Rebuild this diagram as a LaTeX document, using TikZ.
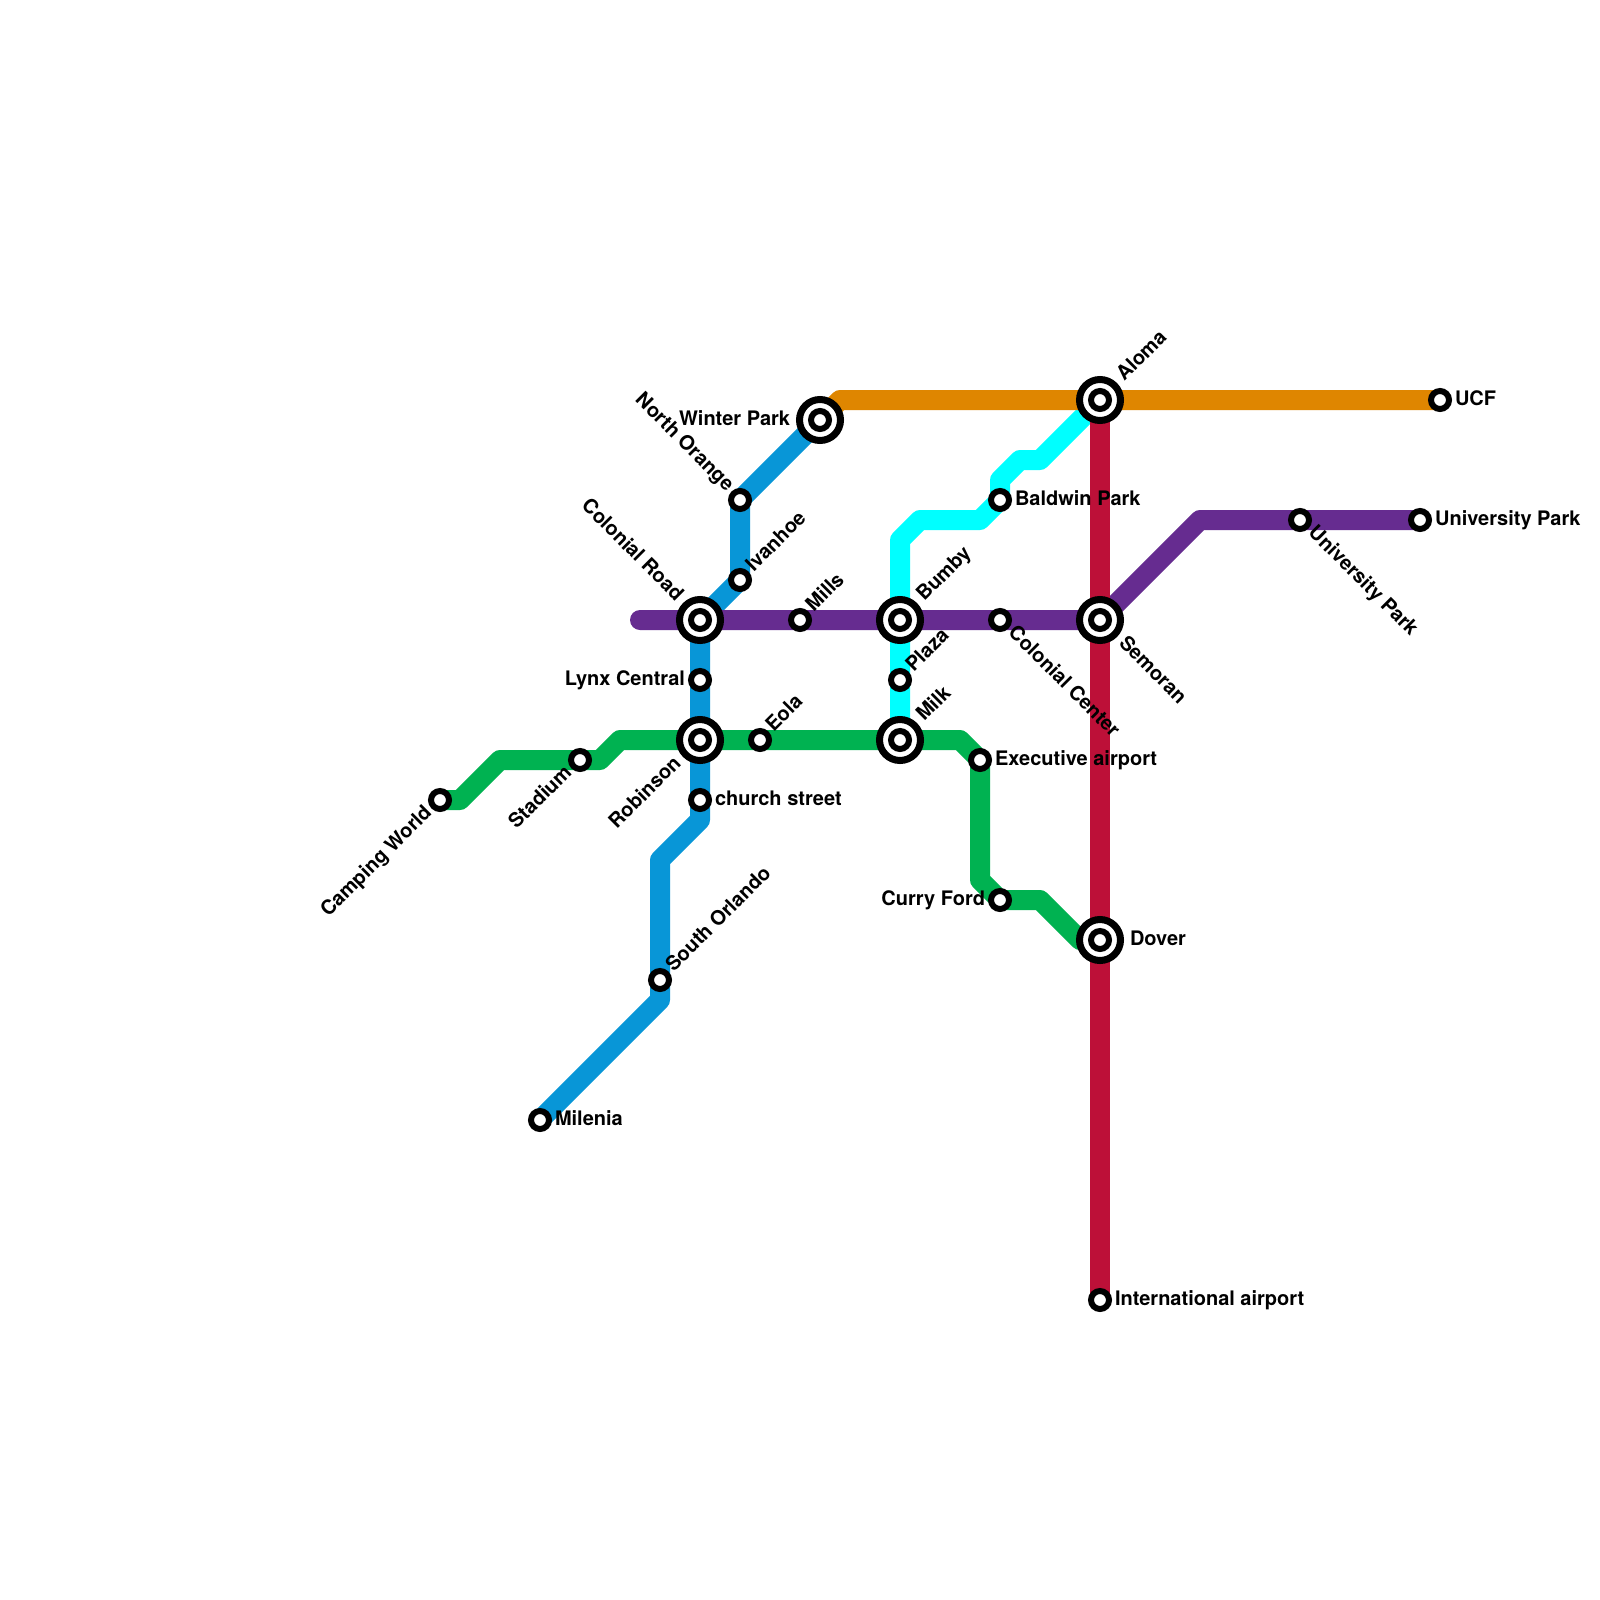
\documentclass[tikz,border=0pt]{standalone}
\usepackage{fontspec}
\setmainfont{TeX Gyre Heros}
\pgfdeclarelayer{lines}
\pgfsetlayers{lines,main}
\definecolor{lblue}{HTML}{0896D7}
\definecolor{lpurple}{HTML}{662C90}
\definecolor{lgreen}{HTML}{00B251}
\definecolor{lorange}{HTML}{DF8600}
\definecolor{lcrimson}{HTML}{BD1038}
\definecolor{lcyan}{HTML}{00FFFF}
\tikzset{
  rail/.style={line width=20pt,line join=round,line cap=round},
  stsmall/.style={circle,draw=black,fill=white,line width=6pt,minimum size=18pt,inner sep=0pt,outer sep=0pt},
  stbig/.style={circle,draw=black,fill=white,line width=7pt,minimum size=41pt,inner sep=0pt,outer sep=0pt},
  lab/.style={inner sep=0pt,outer sep=0pt,text=black,font=\fontsize{20}{24}\selectfont\bfseries},
  labE/.style={lab,xshift=#1,yshift=-5.3pt,anchor=base west},
  labW/.style={lab,xshift=-#1,yshift=-5.3pt,anchor=base east},
  labNE/.style={lab,rotate=45,xshift=#1,yshift=-4.5pt,anchor=base west},
  labSW/.style={lab,rotate=45,xshift=-#1,yshift=-4.5pt,anchor=base east},
  labSE/.style={lab,rotate=-45,xshift=#1,yshift=-4.5pt,anchor=base west},
  labNW/.style={lab,rotate=-45,xshift=-#1,yshift=-4.5pt,anchor=base east},
}
\newcommand{\bigst}[2]{\node[stbig] (#1) at (#2) {}; \node[stsmall] (#1in) at (#2) {};}
\begin{document}
\begin{tikzpicture}[x=1pt,y=-1pt]
\useasboundingbox (0,0) rectangle (1600,1600);
% stations
\bigst{winter}{820,420}
\bigst{aloma}{1100,400}
\bigst{colonial}{700,620}
\bigst{bumby}{900,620}
\bigst{semoran}{1100,620}
\bigst{robinson}{700,740}
\bigst{milk}{900,740}
\bigst{dover}{1100,940}
\node[stsmall] (ucf) at (1440,400) {};
\node[stsmall] (northorange) at (740,500) {};
\node[stsmall] (baldwin) at (1000,500) {};
\node[stsmall] (unipa) at (1300,520) {};
\node[stsmall] (unipb) at (1420,520) {};
\node[stsmall] (ivanhoe) at (740,580) {};
\node[stsmall] (mills) at (800,620) {};
\node[stsmall] (colcenter) at (1000,620) {};
\node[stsmall] (lynx) at (700,680) {};
\node[stsmall] (plaza) at (900,680) {};
\node[stsmall] (eola) at (760,740) {};
\node[stsmall] (stadium) at (580,760) {};
\node[stsmall] (exec) at (980,760) {};
\node[stsmall] (camping) at (440,800) {};
\node[stsmall] (church) at (700,800) {};
\node[stsmall] (curry) at (1000,900) {};
\node[stsmall] (southorl) at (660,980) {};
\node[stsmall] (milenia) at (540,1120) {};
\node[stsmall] (intl) at (1100,1300) {};
% bends
\coordinate (o1) at (840,400);
\coordinate (p0) at (640,620);
\coordinate (p1) at (1200,520);
\coordinate (b1) at (700,820);
\coordinate (b2) at (660,860);
\coordinate (b3) at (660,1000);
\coordinate (c1) at (1040,460);
\coordinate (c2) at (1020,460);
\coordinate (c3) at (1000,480);
\coordinate (c4) at (980,520);
\coordinate (c5) at (920,520);
\coordinate (c6) at (900,540);
\coordinate (g1) at (460,800);
\coordinate (g2) at (500,760);
\coordinate (g3) at (600,760);
\coordinate (g4) at (620,740);
\coordinate (g5) at (960,740);
\coordinate (g6) at (980,880);
\coordinate (g7) at (1040,900);
\coordinate (g8) at (1080,940);
% lines
\begin{pgfonlayer}{lines}
\fill[white] (0,0) rectangle (1600,1600);
\draw[rail,lcyan] (aloma.center) -- (c1) -- (c2) -- (c3) -- (baldwin.center) -- (c4) -- (c5) -- (c6) -- (bumby.center) -- (plaza.center) -- (milk.center);
\draw[rail,lblue] (winter.center) -- (northorange.center) -- (ivanhoe.center) -- (colonial.center) -- (lynx.center) -- (robinson.center) -- (church.center) -- (b1) -- (b2) -- (southorl.center) -- (b3) -- (milenia.center);
\draw[rail,lpurple] (p0) -- (colonial.center) -- (mills.center) -- (bumby.center) -- (colcenter.center) -- (semoran.center) -- (p1) -- (unipa.center) -- (unipb.center);
\draw[rail,lgreen] (camping.center) -- (g1) -- (g2) -- (stadium.center) -- (g3) -- (g4) -- (robinson.center) -- (eola.center) -- (milk.center) -- (g5) -- (exec.center) -- (g6) -- (curry.center) -- (g7) -- (g8) -- (dover.center);
\draw[rail,lcrimson] (aloma.center) -- (semoran.center) -- (dover.center) -- (intl.center);
\draw[rail,lorange] (winter.center) -- (o1) -- (aloma.center) -- (ucf.center);
\end{pgfonlayer}
% labels
\node[labNE=30pt] (tAloma) at (aloma) {Aloma};
\node[labE=15pt] (tUCF) at (ucf) {UCF};
\node[labW=30pt] (tWinter) at (winter) {Winter Park};
\node[labNW=15pt] (tNorth) at (northorange) {North Orange};
\node[labE=15pt] (tBaldwin) at (baldwin) {Baldwin Park};
\node[labSE=15pt] (tUnipA) at (unipa) {University Park};
\node[labE=15pt] (tUnipB) at (unipb) {University Park};
\node[labNE=15pt] (tIvanhoe) at (ivanhoe) {Ivanhoe};
\node[labNW=30pt] (tColonial) at (colonial) {Colonial Road};
\node[labNE=15pt] (tMills) at (mills) {Mills};
\node[labNE=30pt] (tBumby) at (bumby) {Bumby};
\node[labSE=15pt] (tColCenter) at (colcenter) {Colonial Center};
\node[labSE=30pt] (tSemoran) at (semoran) {Semoran};
\node[labW=15pt] (tLynx) at (lynx) {Lynx Central};
\node[labNE=15pt] (tPlaza) at (plaza) {Plaza};
\node[labSW=30pt] (tRobinson) at (robinson) {Robinson};
\node[labNE=15pt] (tEola) at (eola) {Eola};
\node[labNE=30pt] (tMilk) at (milk) {Milk};
\node[labSW=15pt] (tStadium) at (stadium) {Stadium};
\node[labE=15pt] (tExec) at (exec) {Executive airport};
\node[labSW=15pt] (tCamping) at (camping) {Camping World};
\node[labE=15pt] (tChurch) at (church) {church street};
\node[labW=15pt] (tCurry) at (curry) {Curry Ford};
\node[labE=30pt] (tDover) at (dover) {Dover};
\node[labNE=15pt] (tSouth) at (southorl) {South Orlando};
\node[labE=15pt] (tMilenia) at (milenia) {Milenia};
\node[labE=15pt] (tIntl) at (intl) {International airport};
\end{tikzpicture}
\end{document}
